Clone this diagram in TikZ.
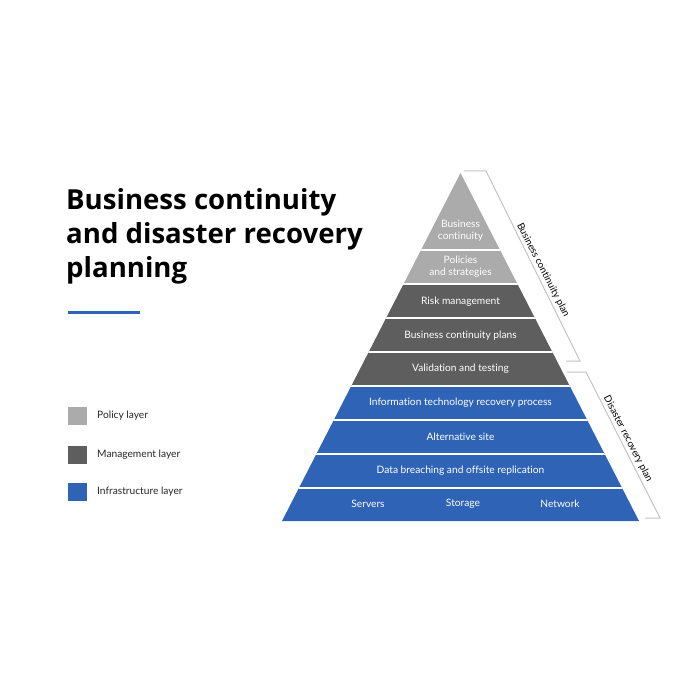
\documentclass[tikz,border=0pt]{standalone}
\usepackage{fontspec}
\setmainfont{Lato}[Ligatures=NoCommon]
\newfontfamily\titlefont{Open Sans}[Ligatures=NoCommon]
\usepackage{tikz}
\definecolor{policygray}{HTML}{ABABAB}
\definecolor{mgmtgray}{HTML}{5E5E5E}
\definecolor{infrablue}{HTML}{2E63B6}
\definecolor{bracketgray}{HTML}{C4C4C4}

\begin{document}
\begin{tikzpicture}[x=1pt, y=-1pt,
  layertext/.style={text=white, font=\fontsize{10.2}{12}\selectfont, align=center, inner sep=0pt},
  legendtext/.style={anchor=west, font=\fontsize{10.2}{11}\selectfont, text=black!85, inner sep=0pt},
  planlabel/.style={font=\fontsize{9.8}{11}\selectfont, rotate=-62.8, inner sep=0pt},
  bracket/.style={draw=bracketgray, line width=1pt}]
\useasboundingbox[fill=white] (0,0) rectangle (700,700);

% title
\node[anchor=north west, align=left, inner sep=0pt, font=\titlefont\bfseries\fontsize{27.6}{34}\selectfont] (title) at (66,188) {Business continuity\\and disaster recovery\\planning};
\draw[infrablue, line width=3pt] (68,312) -- (140,312);

% pyramid
\coordinate (apex) at (460.5,173);
\coordinate (baseright) at (639,521);
\coordinate (baseleft) at (282,521);
\begin{scope}
\clip (apex) -- (baseright) -- (baseleft) -- cycle;
\fill[policygray] (270,165) rectangle (650,284);
\fill[mgmtgray] (270,284) rectangle (650,386);
\fill[infrablue] (270,386) rectangle (650,530);
\foreach \yy in {250,284,318,352,386,420,454,488}
  \draw[white, line width=2pt] (270,\yy) -- (650,\yy);
\end{scope}

\node[layertext] (bclayer) at (460.5,230.5) {Business\\continuity};
\node[layertext] (polayer) at (460.5,266.5) {Policies\\and strategies};
\node[layertext] (risklayer) at (460.5,301.5) {Risk management};
\node[layertext] (planlayer) at (460.5,335.5) {Business continuity plans};
\node[layertext] (testlayer) at (460.5,368.5) {Validation and testing};
\node[layertext] (itlayer) at (460.5,403) {Information technology recovery process};
\node[layertext] (altlayer) at (460.5,437) {Alternative site};
\node[layertext] (datalayer) at (460.5,470.5) {Data breaching and offsite replication};
\node[layertext] (servers) at (368,503.5) {Servers};
\node[layertext] (storage) at (463,503.5) {Storage};
\node[layertext] (network) at (560,503.5) {Network};

% brackets
\draw[bracket] (464,171) -- (486,171) -- (580,361) -- (566,361);
\draw[bracket] (567,372) -- (586,372) -- (660,518) -- (645,518);
\node[planlabel] (bcplan) at (543,270) {Business continuity plan};
\node[planlabel] (drplan) at (628,439) {Disaster recovery plan};

% legend
\fill[policygray] (68,407) rectangle (87,425);
\fill[mgmtgray] (68,446) rectangle (87,464);
\fill[infrablue] (68,483) rectangle (87,501);
\node[legendtext] (policytext) at (97,416) {Policy layer};
\node[legendtext] (mgmttext) at (97,455) {Management layer};
\node[legendtext] (infratext) at (97,492) {Infrastructure layer};
\end{tikzpicture}
\end{document}
